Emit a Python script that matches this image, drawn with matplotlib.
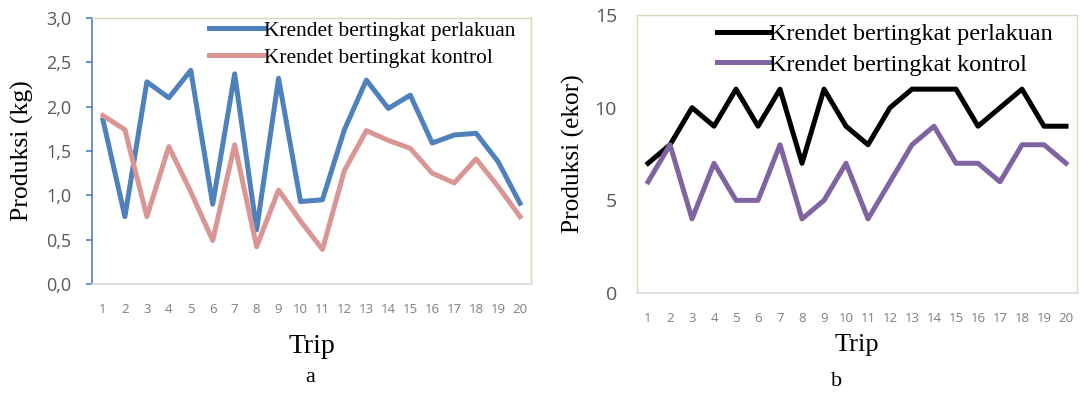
import matplotlib
matplotlib.use("Agg")
import matplotlib.pyplot as plt
from matplotlib.ticker import FixedLocator, FuncFormatter

trips = list(range(1, 21))
trip_labels = [str(t) for t in trips]

# Production weight (kg)
kg_perlakuan = [1.85, 0.76, 2.28, 2.10, 2.41, 0.90, 2.37, 0.61, 2.32, 0.93,
                0.95, 1.74, 2.30, 1.98, 2.13, 1.59, 1.68, 1.70, 1.38, 0.91]
kg_kontrol = [1.90, 1.74, 0.76, 1.55, 1.04, 0.49, 1.57, 0.42, 1.06, 0.71,
              0.39, 1.28, 1.73, 1.62, 1.53, 1.25, 1.14, 1.41, 1.10, 0.76]

# Production count (ekor)
ekor_perlakuan = [7, 8, 10, 9, 11, 9, 11, 7, 11, 9, 8, 10, 11, 11, 11, 9, 10, 11, 9, 9]
ekor_kontrol = [6, 8, 4, 7, 5, 5, 8, 4, 5, 7, 4, 6, 8, 9, 7, 7, 6, 8, 8, 7]

series_names = ["Krendet bertingkat perlakuan", "Krendet bertingkat kontrol"]
kg_ticks = [0.0, 0.5, 1.0, 1.5, 2.0, 2.5, 3.0]
ekor_ticks = [0, 5, 10, 15]

SERIF = ["Liberation Serif", "DejaVu Serif"]
SANS = ["Open Sans", "DejaVu Sans"]
TICK_GREY = "#595959"
FRAME = "#DAD7B8"
BOTTOM = "#D9D9D9"
LW = 3.6

fig = plt.figure(figsize=(10.81, 3.94), dpi=100)
ax1 = fig.add_axes([0.0851, 0.2792, 0.4061, 0.6751])
ax2 = fig.add_axes([0.5893, 0.2563, 0.4070, 0.7056])


def style_axes(ax, left_color, show_ytick_marks, ylab_size, ypad):
    for side in ("top", "right"):
        ax.spines[side].set_color(FRAME)
        ax.spines[side].set_linewidth(1.0)
    ax.spines["left"].set_color(left_color)
    ax.spines["left"].set_linewidth(1.2)
    ax.spines["bottom"].set_color(BOTTOM)
    ax.spines["bottom"].set_linewidth(1.2)
    ax.set_xlim(0.5, 20.5)
    ax.set_xticks(trips)
    ax.set_xticklabels(trip_labels, fontsize=9.5, family=SANS, color="#7F7F7F")
    ax.tick_params(axis="x", length=0, pad=14)
    ax.tick_params(axis="y", length=4 if show_ytick_marks else 0,
                   color=left_color, width=1.2, labelsize=ylab_size,
                   labelcolor=TICK_GREY, pad=ypad)
    for lab in ax.get_yticklabels():
        lab.set_family(SANS)


# Chart a
ax1.plot(trips, kg_perlakuan, color="#4F81BD", lw=LW, label=series_names[0])
ax1.plot(trips, kg_kontrol, color="#D99694", lw=LW, label=series_names[1])
ax1.set_ylim(0, 3.0)
ax1.yaxis.set_major_locator(FixedLocator(kg_ticks))
ax1.yaxis.set_major_formatter(FuncFormatter(lambda v, p: f"{v:.1f}".replace(".", ",")))
style_axes(ax1, "#4F81BD", True, 13, 11)
ax1.set_ylabel("Produksi (kg)", fontsize=18.5, family=SERIF, va="center")
ax1.yaxis.set_label_coords(-0.159, 0.5)
ax1.set_xlabel("Trip", fontsize=20, family=SERIF, labelpad=13)
ax1.legend(loc="upper right", frameon=False,
           prop={"family": SERIF, "size": 15.4},
           handlelength=2.57, handletextpad=0.0, labelspacing=0.31,
           borderaxespad=0.0, borderpad=0.0, bbox_to_anchor=(0.964, 0.989))
fig.text(310 / 1081, 1 - 378 / 394, "a", fontsize=16, family=SERIF,
         ha="center", va="center")

# Chart b
ax2.plot(trips, ekor_perlakuan, color="black", lw=LW, label=series_names[0])
ax2.plot(trips, ekor_kontrol, color="#8064A2", lw=LW, label=series_names[1])
ax2.set_ylim(0, 15)
ax2.yaxis.set_major_locator(FixedLocator(ekor_ticks))
style_axes(ax2, FRAME, False, 14, 14.4)
ax2.spines["left"].set_linewidth(1.0)
ax2.set_ylabel("Produksi (ekor)", fontsize=18.3, family=SERIF, va="center")
ax2.yaxis.set_label_coords(-0.145, 0.5)
ax2.set_xlabel("Trip", fontsize=19, family=SERIF, labelpad=6)
ax2.legend(loc="upper right", frameon=False,
           prop={"family": SERIF, "size": 17.4},
           handlelength=2.15, handletextpad=0.0, labelspacing=0.36,
           borderaxespad=0.0, borderpad=0.0, bbox_to_anchor=(0.945, 0.971))
fig.text(837 / 1081, 1 - 381 / 394, "b", fontsize=16, family=SERIF,
         ha="center", va="center")

fig.savefig("out.png", dpi=100, facecolor="white")
